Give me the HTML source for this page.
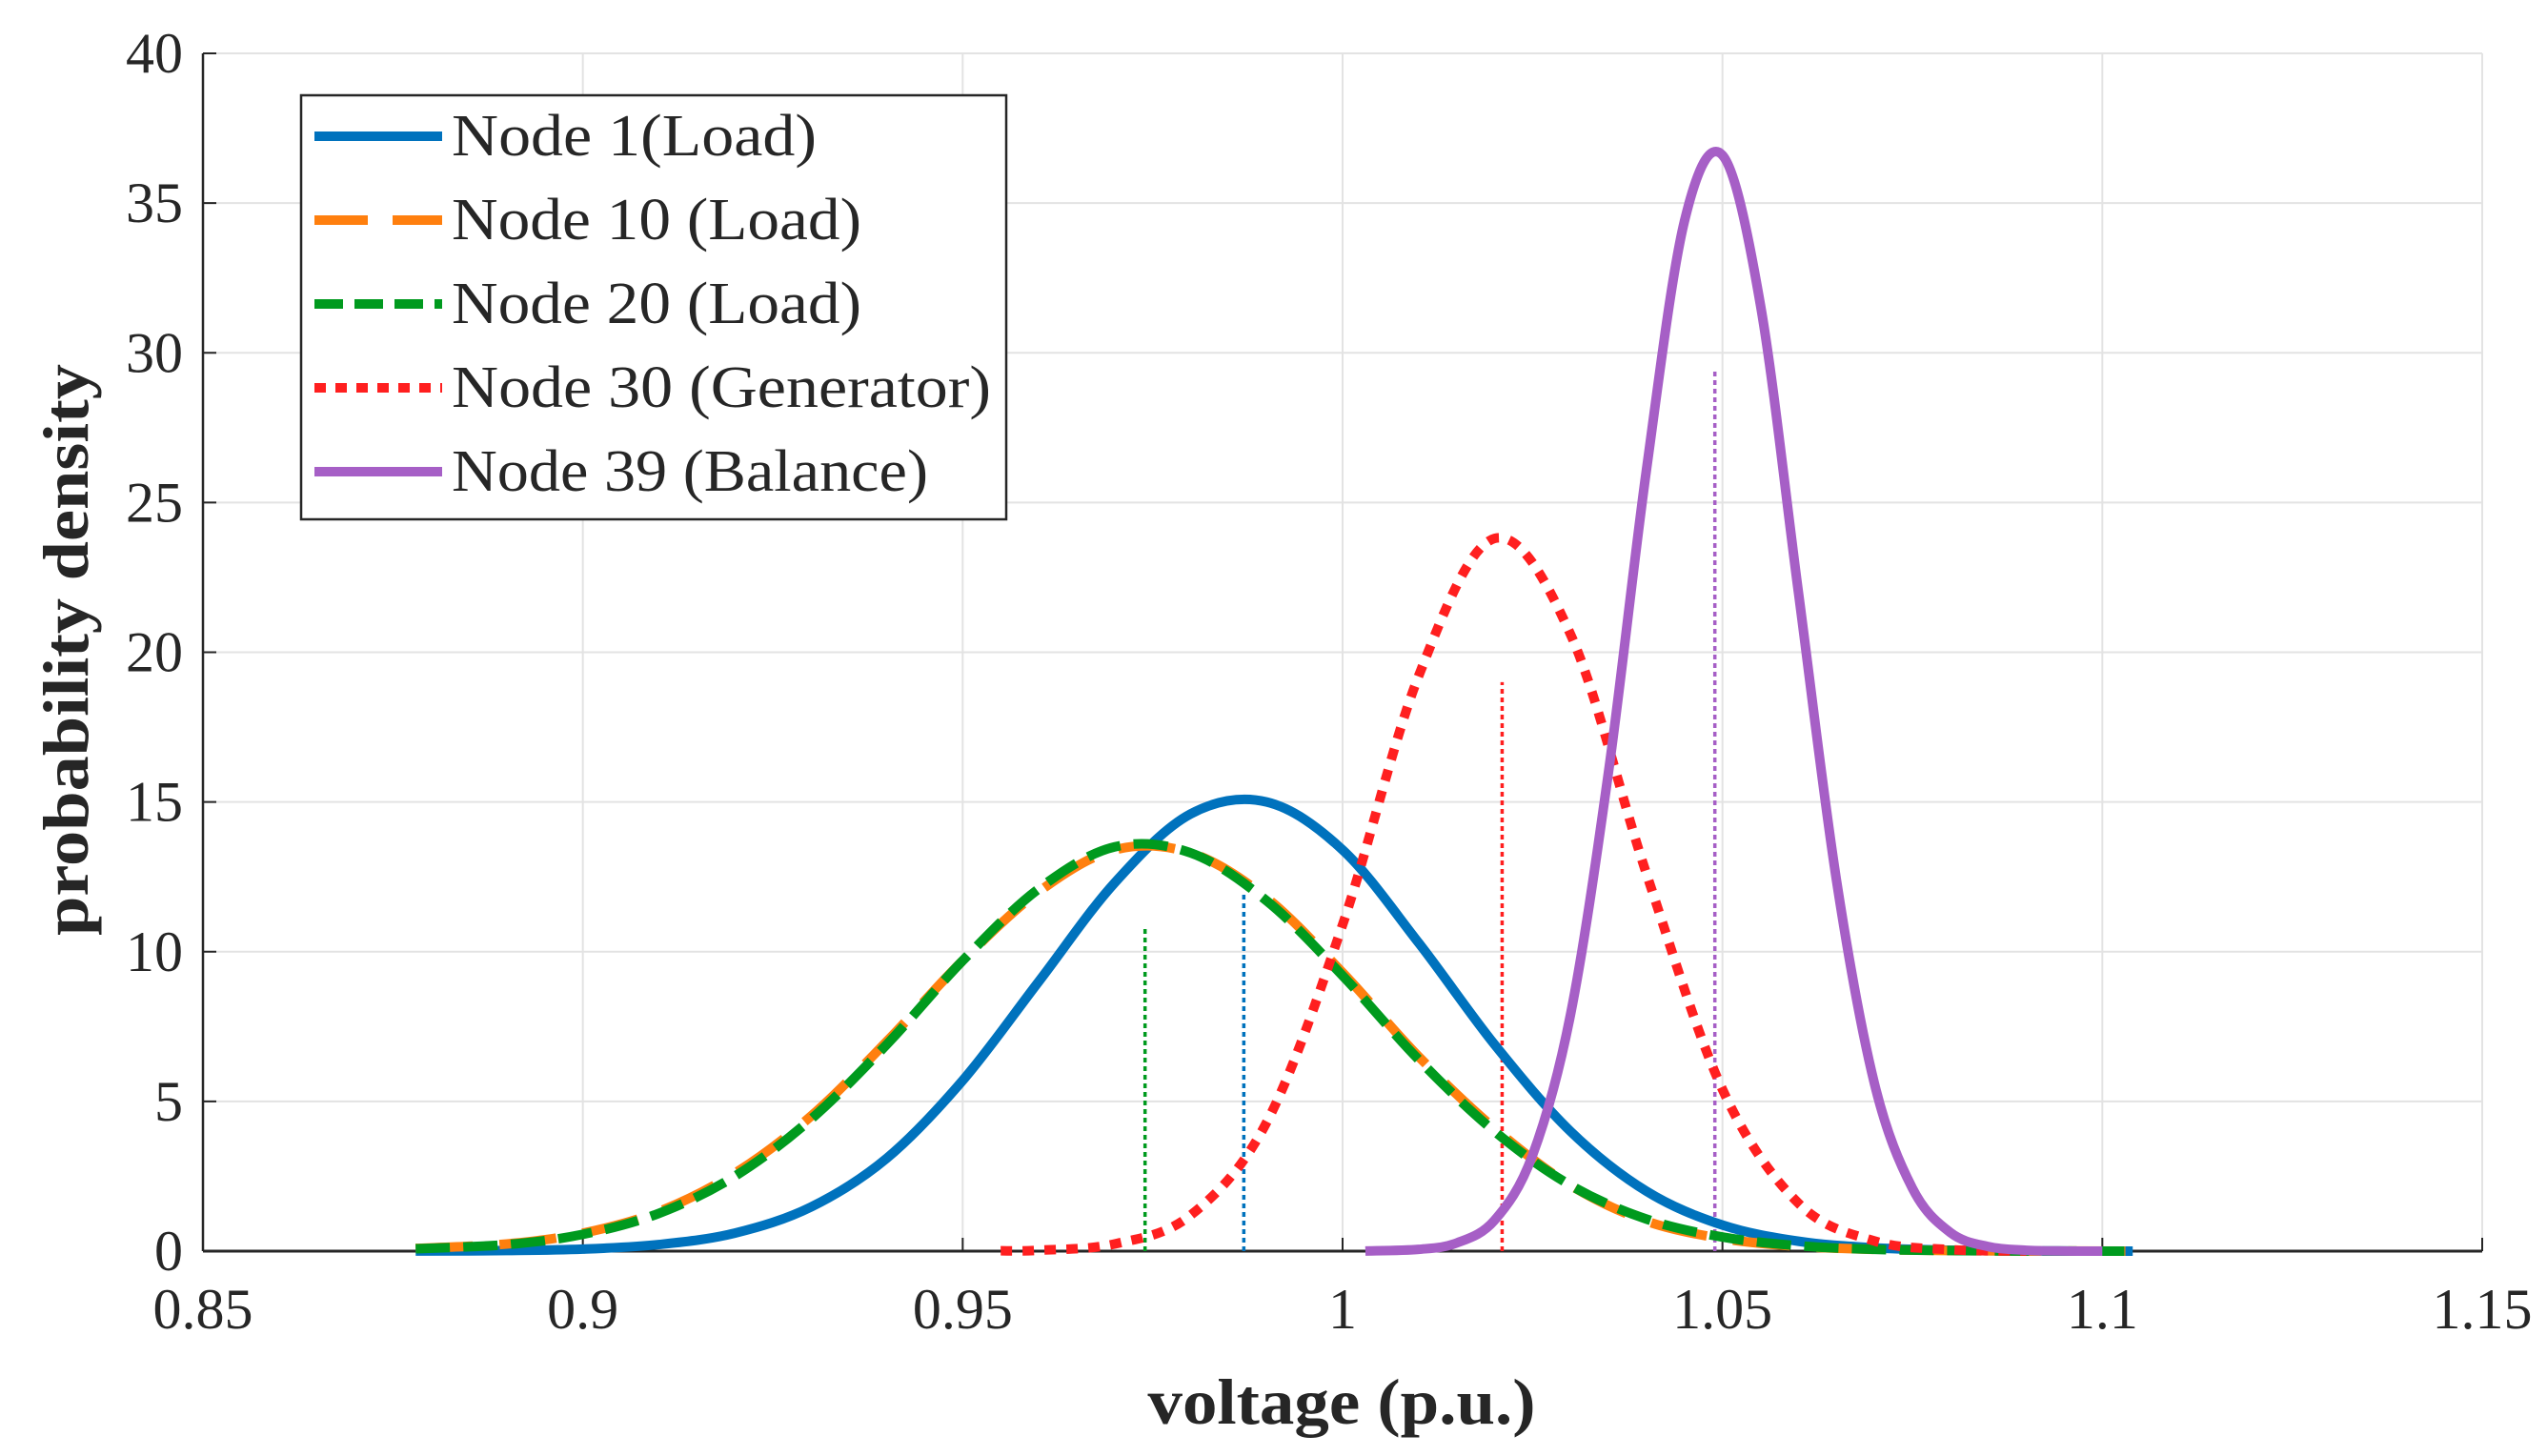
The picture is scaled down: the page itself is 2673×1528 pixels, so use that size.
<!DOCTYPE html>
<html><head><meta charset="utf-8"><style>
html,body{margin:0;padding:0;background:#fff;}
svg{display:block;}
text{font-family:"Liberation Serif",serif;fill:#262626;}
</style></head><body>
<svg id="chart" width="2673" height="1528" viewBox="0 0 2673 1528" xmlns="http://www.w3.org/2000/svg">
<g id="grid"></g>
<g id="axes"></g>
<g id="series"></g>
<text x="0" y="0" transform="translate(92,682) rotate(-90)" text-anchor="middle" font-size="68" font-weight="bold" textLength="600" lengthAdjust="spacingAndGlyphs">probability density</text>
<text x="1408" y="1494" text-anchor="middle" font-size="68" font-weight="bold" textLength="407" lengthAdjust="spacingAndGlyphs">voltage (p.u.)</text>
<g id="legend"></g>
</svg>
<script>
const xTicks=[0.85,0.9,0.95,1,1.05,1.1,1.15];
const xTickLabels=["0.85","0.9","0.95","1","1.05","1.1","1.15"];
const yTicks=[0,5,10,15,20,25,30,35,40];
const yTickLabels=["0","5","10","15","20","25","30","35","40"];
const seriesNames=["Node 1(Load)","Node 10 (Load)","Node 20 (Load)","Node 30 (Generator)","Node 39 (Balance)"];
const xLoad=[0.878,0.89,0.9,0.91,0.92,0.93,0.94,0.95,0.96,0.97,0.98,0.99,1.0,1.01,1.02,1.03,1.04,1.05,1.06,1.07,1.08,1.09,1.104];
const node1=[0.004,0.018,0.066,0.22,0.6,1.47,3.1,5.7,9.0,12.3,14.6,15.0,13.4,10.3,6.9,4.0,2.0,0.87,0.33,0.11,0.03,0.005,0.001];
const node10=[0.09,0.24,0.6,1.32,2.6,4.5,7.0,9.7,12.0,13.4,13.3,11.8,9.3,6.5,4.1,2.2,1.0,0.42,0.16,0.06,0.02,0.005,0.001];
const node20=[0.08,0.22,0.56,1.26,2.5,4.4,6.9,9.7,12.1,13.5,13.3,11.7,9.2,6.4,4.0,2.2,1.07,0.47,0.18,0.06,0.02,0.005,0.001];
const xGen=[0.955,0.96,0.97,0.98,0.99,1.0,1.01,1.02,1.03,1.04,1.05,1.06,1.07,1.08,1.09];
const node30=[0.01,0.03,0.24,1.2,4.3,10.9,19.2,23.8,20.6,12.6,5.4,1.6,0.34,0.05,0.005];
const xBal=[1.003,1.01,1.015,1.02,1.025,1.03,1.035,1.04,1.045,1.05,1.055,1.06,1.065,1.07,1.075,1.08,1.085,1.09,1.095,1.1];
const node39=[0.005,0.06,0.27,1.03,3.2,7.9,16.0,26.1,34.4,36.6,31.6,22.0,12.4,5.6,2.1,0.62,0.15,0.03,0.005,0.001];
const meanX=[0.974,0.987,1.021,1.049];
const meanH=[10.8,12.0,19.0,29.5];
const meanColors=["#009a1e","#0072bd","#ff1f1f","#a65fc6"];

const L=213,R=2605,T=56,B=1313;
const sx=v=>L+(v-0.85)/(0.3)*(R-L);
const sy=v=>B-v/40*(B-T);
const NS="http://www.w3.org/2000/svg";
function mk(tag,parent,attrs){const e=document.createElementNS(NS,tag);for(const k in attrs)e.setAttribute(k,attrs[k]);parent.appendChild(e);return e;}
const grid=document.getElementById('grid'),axes=document.getElementById('axes'),ser=document.getElementById('series'),leg=document.getElementById('legend');

xTicks.forEach((t,i)=>{
 const g=mk('line',grid,{x1:sx(t),x2:sx(t),y1:T,y2:B,stroke:'#e3e3e3','stroke-width':2});
 
 
 const tk=mk('line',axes,{x1:sx(t),x2:sx(t),y1:B,y2:B-14,stroke:'#262626','stroke-width':2});
 
 
 const tx=mk('text',axes,{x:sx(t),y:1394,'text-anchor':'middle','font-size':60});
 tx.textContent=xTickLabels[i];
 
 
});
yTicks.forEach((t,i)=>{
 const g=mk('line',grid,{x1:L,x2:R,y1:sy(t),y2:sy(t),stroke:'#e3e3e3','stroke-width':2});
 
 
 const tk=mk('line',axes,{x1:L,x2:L+14,y1:sy(t),y2:sy(t),stroke:'#262626','stroke-width':2});
 
 
 const tx=mk('text',axes,{x:192,y:sy(t)+20,'text-anchor':'end','font-size':60});
 tx.textContent=yTickLabels[i];
 
 
});
const ax1=mk('line',axes,{x1:L,x2:L,y1:T,y2:B,stroke:'#262626','stroke-width':2.5});


const ax2=mk('line',axes,{x1:L,x2:R,y1:B,y2:B,stroke:'#262626','stroke-width':3});



function smooth(xs,ys){
 const p=xs.map((x,i)=>[sx(x),sy(ys[i])]);
 let d='M'+p[0][0]+','+p[0][1];
 for(let i=0;i<p.length-1;i++){
  const p0=p[Math.max(0,i-1)],p1=p[i],p2=p[i+1],p3=p[Math.min(p.length-1,i+2)];
  const c1=[p1[0]+(p2[0]-p0[0])/6,p1[1]+(p2[1]-p0[1])/6];
  const c2=[p2[0]-(p3[0]-p1[0])/6,p2[1]-(p3[1]-p1[1])/6];
  d+=' C'+c1[0]+','+c1[1]+' '+c2[0]+','+c2[1]+' '+p2[0]+','+p2[1];
 }
 return d;
}
meanX.forEach((m,i)=>{
 const l=mk('line',ser,{x1:sx(m),x2:sx(m),y1:B,y2:sy(meanH[i]),stroke:meanColors[i],'stroke-width':3.5,'stroke-dasharray':'5 4'});
 
 
});
const styles=[
 {xs:xLoad,ys:node1,c:'#0072bd',dash:'',name:'node-1-curve'},
 {xs:xLoad,ys:node10,c:'#ff7f0e',dash:'60 28',name:'node-10-curve'},
 {xs:xLoad,ys:node20,c:'#009a1e',dash:'36 14',name:'node-20-curve'},
 {xs:xGen,ys:node30,c:'#ff1f1f',dash:'12 11',name:'node-30-curve'},
 {xs:xBal,ys:node39,c:'#a65fc6',dash:'',name:'node-39-curve'}
];
styles.forEach(s=>{
 const p=mk('path',ser,{d:smooth(s.xs,s.ys),fill:'none',stroke:s.c,'stroke-width':10,'stroke-dasharray':s.dash||'none'});
 
 
});
const box=mk('rect',leg,{x:316,y:100,width:740,height:445,fill:'#fff',stroke:'#262626','stroke-width':2.5});


const legDash=['','56 26','30 12','12 10',''];
const legW=[383,430,430,566,500];
seriesNames.forEach((n,i)=>{
 const y=143+i*88;
 const g=mk('g',leg,{});
 
 
 mk('line',g,{x1:330,x2:464,y1:y,y2:y,stroke:styles[i].c,'stroke-width':10,'stroke-dasharray':legDash[i]||'none'});
 const t=mk('text',g,{x:474,y:y+20,'font-size':62,textLength:legW[i],lengthAdjust:'spacingAndGlyphs'});
 t.textContent=n;
});
</script>
</body></html>
